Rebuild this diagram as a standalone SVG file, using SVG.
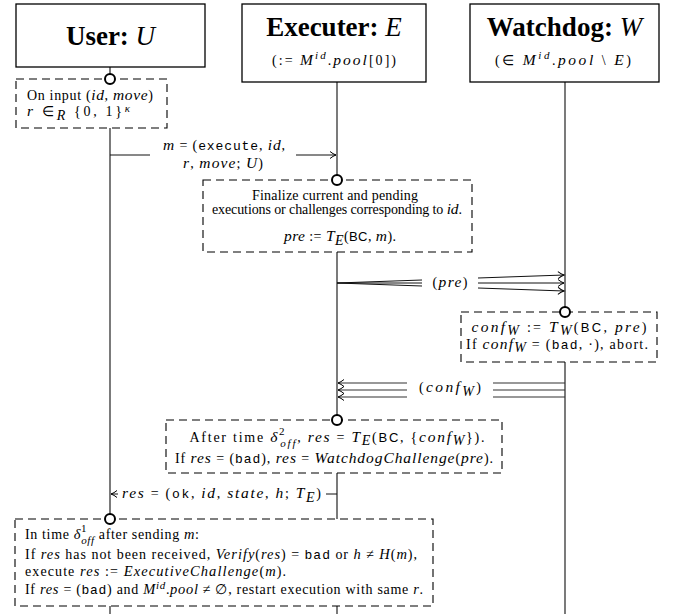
<svg xmlns="http://www.w3.org/2000/svg" width="678" height="614" viewBox="0 0 678 614">
<defs>
<marker id="ah" markerWidth="9" markerHeight="9" refX="7" refY="4" orient="auto" markerUnits="userSpaceOnUse">
<path d="M1,0.5 Q4,3 7,4 Q4,5 1,7.5" fill="none" stroke="#000" stroke-width="1"/>
</marker>
<style>
.t{font-family:"Liberation Serif","Times New Roman",serif;font-size:14px;fill:#000}
.i{font-style:italic;font-size:15.5px}
.tt{font-family:"Liberation Mono","Courier New",monospace;font-size:13px}
.sf{font-family:"Liberation Sans",Arial,sans-serif;font-size:13px}
.s{font-size:11px}
.sub{font-size:14px}
#user-verify .i{font-size:14.5px}
#user-verify .s{font-size:11px}
.title{font-size:27px;font-weight:bold}
.ti{font-size:27px;font-weight:normal;font-style:italic}
.hd{fill:#fff;stroke:#000;stroke-width:1.3}
.db{fill:#fff;stroke:#000;stroke-width:1.1;stroke-dasharray:8 5}
.ll{stroke:#333;stroke-width:1.3;fill:none}
.msg{stroke:#111;stroke-width:1;fill:none}
.msg2{stroke:#333;stroke-width:1.2;fill:none}
.c{fill:#fff;stroke:#000;stroke-width:2}
</style>
</defs>

<g id="connectors">
<line class="ll" x1="110" y1="67" x2="110" y2="614"/>
<line class="ll" x1="337" y1="82" x2="337" y2="614"/>
<line class="ll" x1="565" y1="82" x2="565" y2="614"/>
<line class="msg" x1="110" y1="155" x2="150" y2="155"/>
<line class="msg" x1="296" y1="155" x2="336" y2="155" marker-end="url(#ah)"/>
<line class="msg" x1="337" y1="283" x2="422" y2="280"/>
<line class="msg" x1="337" y1="283" x2="422" y2="283"/>
<line class="msg" x1="337" y1="283" x2="422" y2="286"/>
<line class="msg" x1="478" y1="278" x2="564" y2="275" marker-end="url(#ah)"/>
<line class="msg" x1="478" y1="283" x2="564" y2="283" marker-end="url(#ah)"/>
<line class="msg" x1="478" y1="288" x2="564" y2="291" marker-end="url(#ah)"/>
<line class="msg2" x1="565" y1="383" x2="493" y2="383"/>
<line class="msg2" x1="565" y1="390" x2="493" y2="390"/>
<line class="msg2" x1="565" y1="397" x2="493" y2="397"/>
<line class="msg2" x1="407" y1="383" x2="338" y2="383" marker-end="url(#ah)"/>
<line class="msg2" x1="407" y1="390" x2="338" y2="390" marker-end="url(#ah)"/>
<line class="msg2" x1="407" y1="397" x2="338" y2="397" marker-end="url(#ah)"/>
<line class="msg" x1="337" y1="494" x2="326" y2="494"/>
<line class="msg" x1="118" y1="494" x2="111" y2="494" marker-end="url(#ah)"/>
</g>

<g id="labels">
<text class="t" x="163" y="150" textLength="122" lengthAdjust="spacing"><tspan class="i">m</tspan> = (<tspan class="tt">execute</tspan>, <tspan class="i">id</tspan>,</text>
<text class="t" x="183" y="168" textLength="80" lengthAdjust="spacing"><tspan class="i">r</tspan>, <tspan class="i">move</tspan>; <tspan class="i">U</tspan>)</text>
<text class="t" x="450" y="287" text-anchor="middle" textLength="35" lengthAdjust="spacing">(<tspan class="i">pre</tspan>)</text>
<text class="t" x="450" y="392" text-anchor="middle" textLength="62" lengthAdjust="spacing">(<tspan class="i">conf</tspan><tspan class="i sub" dy="4">W</tspan><tspan dy="-4">)</tspan></text>
<text class="t" x="122" y="498" textLength="199" lengthAdjust="spacing"><tspan class="i">res</tspan> = (<tspan class="tt">ok</tspan>, <tspan class="i">id</tspan>, <tspan class="i">state</tspan>, <tspan class="i">h</tspan>; <tspan class="i">T</tspan><tspan class="i sub" dy="4">E</tspan><tspan dy="-4">)</tspan></text>
</g>

<g id="user">
<rect class="hd" x="16" y="4" width="189" height="63"/>
<text class="t title" x="110.5" y="45" text-anchor="middle">User: <tspan class="ti">U</tspan></text>
</g>

<g id="executer">
<rect class="hd" x="242" y="4" width="184" height="78"/>
<text class="t title" x="334" y="36" text-anchor="middle">Executer: <tspan class="ti">E</tspan></text>
<text class="t" x="334" y="65" text-anchor="middle" textLength="124" lengthAdjust="spacing">(:= <tspan class="i">M</tspan><tspan class="i s" dy="-6">id</tspan><tspan dy="6">.</tspan><tspan class="i">pool</tspan>[0])</text>
</g>

<g id="watchdog">
<rect class="hd" x="470" y="4" width="189" height="78"/>
<text class="t title" x="564.5" y="36" text-anchor="middle">Watchdog: <tspan class="ti">W</tspan></text>
<text class="t" x="563" y="65" text-anchor="middle" textLength="136" lengthAdjust="spacing">(∈ <tspan class="i">M</tspan><tspan class="i s" dy="-6">id</tspan><tspan dy="6">.</tspan><tspan class="i">pool</tspan> \ <tspan class="i">E</tspan>)</text>
</g>

<g id="user-input">
<rect class="db" x="16" y="79" width="151" height="49"/>
<circle class="c" cx="110" cy="79" r="5"/>
<text class="t" x="27" y="100" textLength="126" lengthAdjust="spacing">On input (<tspan class="i">id</tspan>, <tspan class="i">move</tspan>)</text>
<text class="t" x="27" y="116" textLength="103" lengthAdjust="spacing"><tspan class="i">r</tspan> ∈<tspan class="i sub" dy="4">R</tspan><tspan dy="-4"> {0, 1}</tspan><tspan class="i s" dy="-4">κ</tspan></text>
</g>

<g id="executer-finalize">
<rect class="db" x="203" y="180" width="269" height="72"/>
<circle class="c" cx="337" cy="180" r="5"/>
<text class="t" x="335" y="200" text-anchor="middle" textLength="166" lengthAdjust="spacing">Finalize current and pending</text>
<text class="t" x="337" y="214" text-anchor="middle" textLength="250" lengthAdjust="spacing">executions or challenges corresponding to <tspan class="i">id</tspan>.</text>
<text class="t" x="340" y="241" text-anchor="middle" textLength="112" lengthAdjust="spacing"><tspan class="i">pre</tspan> := <tspan class="i">T</tspan><tspan class="i sub" dy="4">E</tspan><tspan dy="-4">(</tspan><tspan class="sf">BC</tspan>, <tspan class="i">m</tspan>).</text>
</g>

<g id="watchdog-check">
<rect class="db" x="461" y="312" width="196" height="50"/>
<circle class="c" cx="565" cy="312" r="5"/>
<text class="t" x="559" y="332" text-anchor="middle" textLength="175" lengthAdjust="spacing"><tspan class="i">conf</tspan><tspan class="i sub" dy="3">W</tspan><tspan dy="-3"> := </tspan><tspan class="i">T</tspan><tspan class="i sub" dy="3">W</tspan><tspan dy="-3">(</tspan><tspan class="sf">BC</tspan>, <tspan class="i">pre</tspan>)</text>
<text class="t" x="557" y="349" text-anchor="middle" textLength="182" lengthAdjust="spacing">If <tspan class="i">conf</tspan><tspan class="i sub" dy="3">W</tspan><tspan dy="-3"> = (</tspan><tspan class="tt">bad</tspan>, ·), abort.</text>
</g>

<g id="executer-result">
<rect class="db" x="166" y="420" width="336" height="53"/>
<circle class="c" cx="337" cy="420" r="5"/>
<text class="t" x="337" y="442" text-anchor="middle" textLength="295" lengthAdjust="spacing">After time <tspan class="i">δ</tspan><tspan class="s" dy="-7">2</tspan><tspan class="i s" dx="-6" dy="12">off</tspan><tspan dy="-5">, </tspan><tspan class="i">res</tspan> = <tspan class="i">T</tspan><tspan class="i sub" dy="3">E</tspan><tspan dy="-3">(</tspan><tspan class="sf">BC</tspan>, {<tspan class="i">conf</tspan><tspan class="i sub" dy="3">W</tspan><tspan dy="-3">}).</tspan></text>
<text class="t" x="334" y="463" text-anchor="middle" textLength="318" lengthAdjust="spacing">If <tspan class="i">res</tspan> = (<tspan class="tt">bad</tspan>), <tspan class="i">res</tspan> = <tspan class="i">WatchdogChallenge</tspan>(<tspan class="i">pre</tspan>).</text>
</g>

<g id="user-verify">
<rect class="db" x="15" y="519" width="418" height="87"/>
<circle class="c" cx="110" cy="519" r="5"/>
<text class="t" x="25" y="539" textLength="174" lengthAdjust="spacing">In time <tspan class="i">δ</tspan><tspan class="s" dy="-7">1</tspan><tspan class="i s" dx="-6" dy="12">off</tspan><tspan dy="-5"> after sending </tspan><tspan class="i">m</tspan>:</text>
<text class="t" x="25" y="559" textLength="392" lengthAdjust="spacing">If <tspan class="i">res</tspan> has not been received, <tspan class="i">Verify</tspan>(<tspan class="i">res</tspan>) = <tspan class="tt">bad</tspan> or <tspan class="i">h</tspan> ≠ <tspan class="i">H</tspan>(<tspan class="i">m</tspan>),</text>
<text class="t" x="25" y="576" textLength="261" lengthAdjust="spacing">execute <tspan class="i">res</tspan> := <tspan class="i">ExecutiveChallenge</tspan>(<tspan class="i">m</tspan>).</text>
<text class="t" x="25" y="594" textLength="398" lengthAdjust="spacing">If <tspan class="i">res</tspan> = (<tspan class="tt">bad</tspan>) and <tspan class="i">M</tspan><tspan class="i s" dy="-5">id</tspan><tspan dy="5">.</tspan><tspan class="i">pool</tspan> ≠ ∅, restart execution with same <tspan class="i">r</tspan>.</text>
</g>
</svg>
